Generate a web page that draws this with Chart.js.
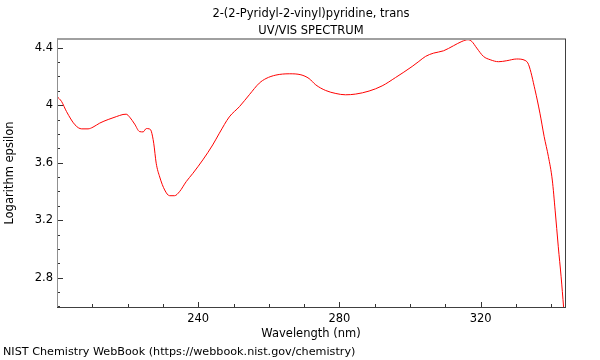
<!DOCTYPE html>
<html>
<head>
<meta charset="utf-8">
<script src="https://cdn.jsdelivr.net/npm/chart.js@4/dist/chart.umd.min.js"></script>
<style>
  html, body { margin: 0; padding: 0; background: #fff; }
  #wrap { position: relative; width: 600px; height: 360px; }
  #c { position: absolute; left: 0; top: 0; }
  .txt { position: absolute; font-family: "DejaVu Sans", sans-serif; font-size: 11.5px; color: #000; white-space: nowrap; }
  #title { left: 57px; width: 508px; top: 4.5px; text-align: center; line-height: 17px; }
  #footer { left: 3px; top: 345px; line-height: 14px; font-size: 11.2px; }
</style>
</head>
<body>
<div id="wrap">
  <canvas id="c" width="600" height="360"></canvas>
  <div id="title" class="txt">2-(2-Pyridyl-2-vinyl)pyridine, trans<br>UV/VIS SPECTRUM</div>
  <div id="footer" class="txt">NIST Chemistry WebBook (https://webbook.nist.gov/chemistry)</div>
</div>
<script>
// Wavelength (nm)
const wavelengths = [
  200.0, 201.3, 202.7, 205.1, 207.0, 208.8, 210.2, 212.1, 214.5, 216.8,
  218.7, 219.6, 220.6, 222.0, 223.4, 224.4, 225.3, 226.1, 226.7, 227.4,
  228.1, 229.1, 230.5, 231.9, 233.3, 234.7, 236.6, 238.5, 241.3, 244.1,
  246.0, 248.8, 251.7, 254.5, 257.3, 259.2, 262.0, 265.8, 269.1, 271.4,
  273.3, 276.1, 279.0, 281.7, 284.6, 288.4, 292.1, 295.9, 300.6, 302.5,
  304.4, 306.7, 309.5, 312.3, 314.7, 316.4, 317.5, 318.9, 320.8, 322.7,
  325.1, 327.4, 330.2, 332.6, 333.6, 335.4, 336.8, 338.0, 339.2, 340.3,
  341.1, 342.0, 342.8, 343.5
];
// Logarithm epsilon
const logEpsilon = [
  4.060, 4.025, 3.955, 3.863, 3.835, 3.835, 3.847, 3.875, 3.900, 3.920,
  3.935, 3.937, 3.916, 3.868, 3.816, 3.814, 3.837, 3.835, 3.819, 3.735,
  3.596, 3.500, 3.410, 3.370, 3.370, 3.398, 3.468, 3.526, 3.619, 3.723,
  3.805, 3.918, 3.990, 4.073, 4.153, 4.185, 4.209, 4.218, 4.211, 4.185,
  4.141, 4.102, 4.081, 4.072, 4.077, 4.098, 4.134, 4.192, 4.269, 4.304,
  4.339, 4.362, 4.378, 4.413, 4.443, 4.455, 4.443, 4.397, 4.339, 4.316,
  4.302, 4.309, 4.321, 4.311, 4.281, 4.107, 3.944, 3.781, 3.642, 3.479,
  3.270, 3.015, 2.806, 2.596
];
const xTickValues = [240, 280, 320];
const yTickValues = [2.8, 3.2, 3.6, 4.0, 4.4];
const xMinorStep = 10;
const yMinorStep = 0.1;
const xRange = [200, 343.9];
const yRange = [2.596, 4.46];

const FONT = "'DejaVu Sans', sans-serif";

const framePlugin = {
  id: 'frame',
  afterDatasetsDraw(chart) {
    const {ctx, chartArea: a, scales} = chart;
    const xs = scales.x, ys = scales.y;
    ctx.save();
    // ticks (inward)
    ctx.fillStyle = '#333';
    for (let v = Math.ceil(xRange[0] / xMinorStep) * xMinorStep; v <= xRange[1] + 1e-9; v += xMinorStep) {
      const major = xTickValues.some(t => Math.abs(t - v) < 1e-6);
      const px = Math.round(xs.getPixelForValue(v));
      const len = major ? 5 : 3;
      ctx.fillRect(px, a.bottom - len, 1, len);
    }
    for (let i = Math.ceil(yRange[0] / yMinorStep); i * yMinorStep <= yRange[1] + 1e-9; i++) {
      const v = i * yMinorStep;
      const major = yTickValues.some(t => Math.abs(t - v) < 1e-6);
      const py = Math.round(ys.getPixelForValue(v));
      const len = major ? 6 : 3;
      ctx.fillRect(a.left, py, len, 1);
    }
    // frame
    const L = Math.round(a.left), R = Math.round(a.right), T = Math.round(a.top), B = Math.round(a.bottom);
    ctx.fillStyle = '#a0a0a0';
    ctx.fillRect(L, T - 1, R - L + 1, 2);
    ctx.fillStyle = '#909090';
    ctx.fillRect(L, T, 1, B - T);
    ctx.fillStyle = '#404040';
    ctx.fillRect(R, T, 1, B - T + 1);
    ctx.fillRect(L, B, R - L + 1, 1);
    ctx.restore();
  }
};

new Chart(document.getElementById('c'), {
  type: 'line',
  data: {
    datasets: [{
      data: wavelengths.map((w, i) => ({x: w, y: logEpsilon[i]})),
      borderColor: '#ff0000',
      borderWidth: 1,
      pointRadius: 0,
      fill: false,
      cubicInterpolationMode: 'monotone'
    }]
  },
  options: {
    responsive: false,
    animation: false,
    devicePixelRatio: 1,
    layout: { padding: { left: 0, right: 35, top: 39, bottom: 0 } },
    plugins: { legend: { display: false }, tooltip: { enabled: false }, title: { display: false } },
    scales: {
      x: {
        type: 'linear',
        min: xRange[0], max: xRange[1],
        grid: { display: false, drawTicks: false },
        border: { display: false },
        afterFit(s) { s.height = 53; },
        afterBuildTicks(s) { s.ticks = xTickValues.map(v => ({value: v})); },
        ticks: { padding: 5, color: '#000', font: { family: FONT, size: 11.5 }, maxRotation: 0, autoSkip: false,
                 callback: v => String(v) },
        title: { display: true, text: 'Wavelength (nm)', color: '#000', font: { family: FONT, size: 11.5 },
                 padding: { top: 0, bottom: 19.5 } }
      },
      y: {
        type: 'linear',
        min: yRange[0], max: yRange[1],
        grid: { display: false, drawTicks: false },
        border: { display: false },
        afterFit(s) { s.width = 57; },
        afterBuildTicks(s) { s.ticks = yTickValues.map(v => ({value: v})); },
        ticks: { padding: 4, color: '#000', font: { family: FONT, size: 11.5 }, autoSkip: false,
                 callback: v => String(Math.round(v * 10) / 10) },
        title: { display: true, text: 'Logarithm epsilon', color: '#000', font: { family: FONT, size: 11.5 },
                 padding: { top: 3, bottom: 0 } }
      }
    }
  },
  plugins: [framePlugin]
});
</script>
</body>
</html>
